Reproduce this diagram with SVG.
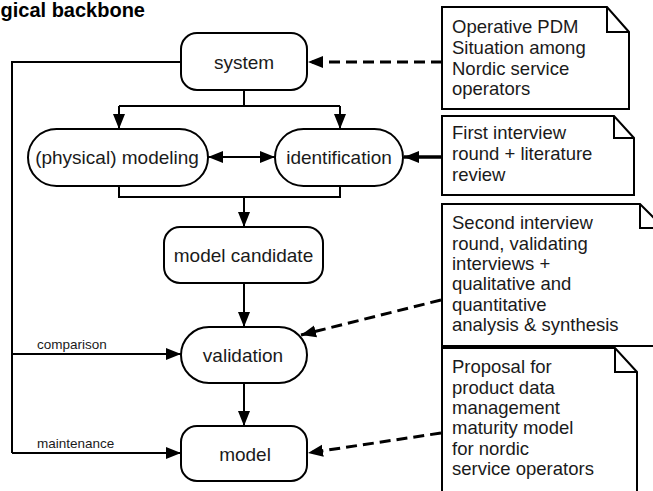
<svg xmlns="http://www.w3.org/2000/svg" width="653" height="491" viewBox="0 0 653 491">
<style>
.node{fill:#fff;stroke:#000;stroke-width:2}
.note{fill:#fff;stroke:#000;stroke-width:2}
.fold{fill:none;stroke:#000;stroke-width:2}
.lbl{font-family:"Liberation Sans",Arial,sans-serif;font-size:19px;text-anchor:middle;fill:#1a1a1a}
.nt{font-family:"Liberation Sans",Arial,sans-serif;font-size:18.5px;fill:#1a1a1a}
.sm{font-family:"Liberation Sans",Arial,sans-serif;font-size:13.5px;fill:#1a1a1a}
.ttl{font-family:"Liberation Sans",Arial,sans-serif;font-size:20px;font-weight:bold;fill:#000}
.c{fill:none;stroke:#000;stroke-width:2}
.d{fill:none;stroke:#000;stroke-width:3;stroke-dasharray:11 6}
.s{fill:none;stroke:#000;stroke-width:3.5}
</style>
<defs>
<marker id="ah" markerUnits="userSpaceOnUse" markerWidth="16" markerHeight="14" refX="15" refY="7" orient="auto">
<path d="M0,1 L15,7 L0,13 Z" fill="#000"/>
</marker>
<marker id="ahs" markerUnits="userSpaceOnUse" markerWidth="16" markerHeight="14" refX="1" refY="7" orient="auto">
<path d="M16,1 L1,7 L16,13 Z" fill="#000"/>
</marker>
</defs>
<rect width="653" height="491" fill="#fff"/>
<text class="ttl" x="0.5" y="16.5">gical backbone</text>

<g id="connectors">
<path class="c" d="M181,62 H12 V453"/>
<path class="c" d="M12,354 H181" marker-end="url(#ah)"/>
<path class="c" d="M12,453 H181" marker-end="url(#ah)"/>
<path class="c" d="M244,90 V106"/>
<path class="c" d="M119,106 H340"/>
<path class="c" d="M119,106 V129" marker-end="url(#ah)"/>
<path class="c" d="M340,106 V129" marker-end="url(#ah)"/>
<path class="c" d="M208,157 H275" marker-start="url(#ahs)" marker-end="url(#ah)"/>
<path class="c" d="M119,186 V197 H340 V186"/>
<path class="c" d="M244,197 V227" marker-end="url(#ah)"/>
<path class="c" d="M244,283 V327" marker-end="url(#ah)"/>
<path class="c" d="M244,383 V426" marker-end="url(#ah)"/>
<path class="d" d="M442,62 H308" marker-end="url(#ah)"/>
<path class="s" d="M442,157 H404" marker-end="url(#ah)"/>
<path class="d" d="M441,300 L301,335" marker-end="url(#ah)"/>
<path class="d" d="M441,433 L308,453" marker-end="url(#ah)"/>
<text class="sm" x="37" y="349">comparison</text>
<text class="sm" x="37" y="448">maintenance</text>
</g>

<g id="system">
<rect class="node" x="181" y="33" width="126" height="57" rx="16"/>
<text class="lbl" x="244" y="68.5">system</text>
</g>
<g id="modeling">
<rect class="node" x="28" y="129" width="180" height="57" rx="28.5"/>
<text class="lbl" x="117" y="163.5">(physical) modeling</text>
</g>
<g id="identification">
<rect class="node" x="275" y="129" width="128" height="57" rx="28.5"/>
<text class="lbl" x="339" y="163.5">identification</text>
</g>
<g id="model-candidate">
<rect class="node" x="164" y="227" width="159" height="56" rx="16"/>
<text class="lbl" x="243.5" y="262">model candidate</text>
</g>
<g id="validation">
<rect class="node" x="181" y="327" width="126" height="56" rx="28"/>
<text class="lbl" x="243" y="361.5">validation</text>
</g>
<g id="model">
<rect class="node" x="181" y="426" width="126" height="55" rx="16"/>
<text class="lbl" x="245" y="461">model</text>
</g>

<g id="note1">
<path class="note" d="M442,7 H607 L629,32 V109 H442 Z"/>
<path class="fold" d="M607,7 V32 H629"/>
<text class="nt" x="452" y="33">Operative PDM</text>
<text class="nt" x="452" y="54">Situation among</text>
<text class="nt" x="452" y="74.5">Nordic service</text>
<text class="nt" x="452" y="95">operators</text>
</g>
<g id="note2">
<path class="note" d="M442,116 H614 L634,138 V195 H442 Z"/>
<path class="fold" d="M614,116 V138 H634"/>
<text class="nt" x="452" y="139">First interview</text>
<text class="nt" x="452" y="160">round + literature</text>
<text class="nt" x="452" y="181">review</text>
</g>
<g id="note3">
<path class="note" d="M442,204 H640 L664,228 V346 H442 Z"/>
<path class="fold" d="M640,204 V228 H664"/>
<text class="nt" x="452" y="229">Second interview</text>
<text class="nt" x="452" y="249.5">round, validating</text>
<text class="nt" x="452" y="270">interviews +</text>
<text class="nt" x="452" y="290">qualitative and</text>
<text class="nt" x="452" y="310.5">quantitative</text>
<text class="nt" x="452" y="331">analysis &amp; synthesis</text>
</g>
<g id="note4">
<path class="note" d="M442,348 H615 L637,372 V500 H442 Z"/>
<path class="fold" d="M615,348 V372 H637"/>
<text class="nt" x="452" y="373">Proposal for</text>
<text class="nt" x="452" y="393.5">product data</text>
<text class="nt" x="452" y="414">management</text>
<text class="nt" x="452" y="434">maturity model</text>
<text class="nt" x="452" y="454.5">for nordic</text>
<text class="nt" x="452" y="475">service operators</text>
</g>
</svg>
